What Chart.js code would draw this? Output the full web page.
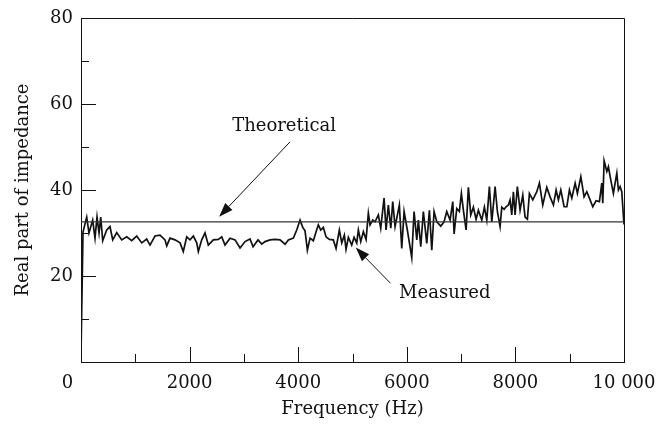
<!DOCTYPE html>
<html><head><meta charset="utf-8">
<script src="https://cdn.jsdelivr.net/npm/chart.js@4"></script>
<style>html,body{margin:0;padding:0;background:#fff}</style>
</head><body>
<canvas id="c" width="657" height="424"></canvas>
<script>
// ---- data ----
const freqHz = [0,37,105,147,215,258,295,332,363,400,473,534,584,658,750,842,934,1026,1118,1210,1271,1363,1455,1547,1579,1639,1731,1824,1884,1947,2008,2069,2131,2161,2223,2284,2345,2437,2529,2592,2652,2745,2837,2929,3021,3113,3168,3260,3329,3389,3481,3574,3666,3758,3819,3911,3973,4034,4084,4126,4169,4218,4279,4329,4371,4415,4463,4513,4574,4647,4697,4758,4802,4850,4881,4924,4986,5029,5078,5108,5152,5200,5250,5292,5323,5373,5415,5476,5520,5581,5618,5660,5705,5741,5784,5863,5907,5950,6010,6091,6134,6184,6213,6257,6305,6368,6416,6460,6502,6552,6626,6686,6736,6797,6847,6871,6920,6968,7005,7042,7092,7134,7178,7226,7276,7318,7381,7429,7473,7521,7565,7626,7668,7718,7749,7792,7829,7871,7902,7933,7963,7994,8036,8086,8136,8178,8221,8258,8320,8394,8442,8504,8578,8639,8700,8750,8792,8836,8897,8947,8995,9039,9100,9142,9205,9265,9315,9363,9425,9486,9547,9591,9609,9634,9684,9713,9757,9805,9836,9868,9897,9928,9959,10000];
const measured = [2,30.2,33.7,30.0,33.0,28.8,33.7,30.0,33.7,28.2,30.7,31.5,28.4,30.1,28.4,29.1,28.2,29.3,27.7,28.6,27.2,29.3,29.5,28.4,27.0,28.8,28.4,27.7,25.7,29.1,28.4,29.3,27.7,25.7,28.4,30.0,27.2,28.4,28.5,29.1,27.2,28.8,28.4,26.5,28.0,28.6,26.8,28.4,27.4,28.0,28.4,28.5,28.4,27.4,28.4,28.8,30.7,33.0,31.3,30.5,26.0,28.8,28.2,30.3,31.9,30.7,31.3,29.1,28.5,28.4,26.4,30.7,27.7,29.5,26.2,29.0,27.2,29.0,27.7,30.7,28.0,30.3,28.5,34.6,31.9,33.0,32.6,34.2,31.1,38.1,30.7,36.5,31.1,37.3,31.5,36.5,26.4,35.0,30.7,24.3,35.0,28.4,33.0,26.8,35.0,27.6,35.3,26.0,35.0,32.6,31.6,32.6,35.0,33.0,37.3,29.8,35.7,35.0,39.2,35.3,30.7,40.6,34.2,36.0,33.2,35.3,33.0,36.0,33.0,40.8,32.6,40.8,35.0,31.5,36.0,35.5,36.1,36.5,37.7,34.2,39.6,34.2,40.8,35.3,38.8,33.7,33.2,39.2,37.7,39.6,41.6,36.5,40.6,38.4,36.5,40.0,37.7,40.0,36.1,36.1,40.0,38.1,41.6,39.2,43.1,38.4,39.6,38.1,36.1,37.5,37.3,41.6,36.9,46.8,44.3,45.4,42.3,39.2,41.6,43.9,40.0,40.8,39.6,32.0];
const theoFreq = [0, 10000];
const theoretical = [32.6, 32.6];
const xTickValues = [0, 2000, 4000, 6000, 8000, 10000];
const yTickValues = [0, 20, 40, 60, 80];

const FONT = 'DejaVu Serif';
const INK = '#111';

// annotation labels (data coordinates)
const notes = [
  {text: 'Theoretical', tx: 3740, ty: 54.7, from: [3850, 51.2], to: [2545, 33.8]},
  {text: 'Measured', tx: 6700, ty: 16.0, from: [5700, 18.3], to: [5060, 26.6]}
];

const decor = {
  id: 'decor',
  afterDatasetsDraw(chart) {
    const {ctx, chartArea: a, scales: {x, y}} = chart;
    ctx.save();
    ctx.strokeStyle = INK; ctx.lineWidth = 1;
    // frame top & right
    ctx.beginPath();
    ctx.moveTo(a.left, a.top + 0.5); ctx.lineTo(a.right + 0.5, a.top + 0.5);
    ctx.lineTo(a.right + 0.5, a.bottom);
    ctx.stroke();
    // inward ticks
    ctx.beginPath();
    for (let v = 1000; v < 10000; v += 1000) {
      const px = Math.round(x.getPixelForValue(v)) + 0.5;
      const len = v % 2000 === 0 ? 15 : 8;
      ctx.moveTo(px, a.bottom); ctx.lineTo(px, a.bottom - len);
    }
    for (let v = 10; v < 80; v += 10) {
      const py = Math.round(y.getPixelForValue(v)) + 0.5;
      const len = v % 20 === 0 ? 15 : 8;
      ctx.moveTo(a.left, py); ctx.lineTo(a.left + len, py);
    }
    ctx.stroke();
    // annotations
    ctx.fillStyle = INK;
    ctx.font = '18px "' + FONT + '"';
    ctx.textAlign = 'center'; ctx.textBaseline = 'middle';
    notes.forEach(n => {
      ctx.fillText(n.text, x.getPixelForValue(n.tx), y.getPixelForValue(n.ty));
      const x1 = x.getPixelForValue(n.from[0]), y1 = y.getPixelForValue(n.from[1]);
      const x2 = x.getPixelForValue(n.to[0]), y2 = y.getPixelForValue(n.to[1]);
      const ang = Math.atan2(y2 - y1, x2 - x1);
      const hl = 14, hw = 5;
      const bx = x2 - hl * Math.cos(ang), by = y2 - hl * Math.sin(ang);
      ctx.beginPath(); ctx.moveTo(x1, y1); ctx.lineTo(bx, by); ctx.stroke();
      ctx.beginPath();
      ctx.moveTo(x2, y2);
      ctx.lineTo(bx + hw * Math.sin(ang), by - hw * Math.cos(ang));
      ctx.lineTo(bx - hw * Math.sin(ang), by + hw * Math.cos(ang));
      ctx.closePath(); ctx.fill();
    });
    ctx.restore();
  }
};

new Chart(document.getElementById('c'), {
  type: 'line',
  data: {
    datasets: [
      {label: 'Theoretical', data: theoFreq.map((f, i) => ({x: f, y: theoretical[i]})),
       borderColor: '#333', borderWidth: 1.2, pointRadius: 0, tension: 0},
      {label: 'Measured', data: freqHz.map((f, i) => ({x: f, y: measured[i]})),
       borderColor: '#111', borderWidth: 1.7, pointRadius: 0, tension: 0}
    ]
  },
  options: {
    responsive: false, animation: false,
    layout: {padding: {left: 0, right: 33, top: 18, bottom: 0}},
    plugins: {legend: {display: false}, tooltip: {enabled: false}},
    scales: {
      x: {
        type: 'linear', min: 0, max: 10000,
        afterBuildTicks(s) { s.ticks = xTickValues.map(v => ({value: v})); },
        ticks: {color: INK, font: {family: FONT, size: 18}, padding: 11, maxRotation: 0, autoSkip: false,
                callback: v => v === 10000 ? '10 000' : (v === 0 ? '0\u2003\u2002' : String(v))},
        grid: {display: false, drawTicks: false},
        border: {display: true, color: INK, width: 1},
        title: {display: true, text: 'Frequency (Hz)', color: INK, font: {family: FONT, size: 18}, padding: {top: 0, bottom: 4}},
        afterFit(s) { s.height = 62; s.paddingLeft = 0; s.paddingRight = 0; }
      },
      y: {
        min: 0, max: 80,
        afterBuildTicks(s) { s.ticks = yTickValues.map(v => ({value: v})); },
        ticks: {color: INK, font: {family: FONT, size: 18}, padding: 8,
                callback: v => v === 0 ? '' : String(v)},
        grid: {display: false, drawTicks: false},
        border: {display: true, color: INK, width: 1},
        title: {display: true, text: 'Real part of impedance', color: INK, font: {family: FONT, size: 18}, padding: {top: 13, bottom: 0}},
        afterFit(s) { s.width = 81; s.paddingTop = 0; s.paddingBottom = 0; }
      }
    }
  },
  plugins: [decor]
});
</script>
</body></html>
